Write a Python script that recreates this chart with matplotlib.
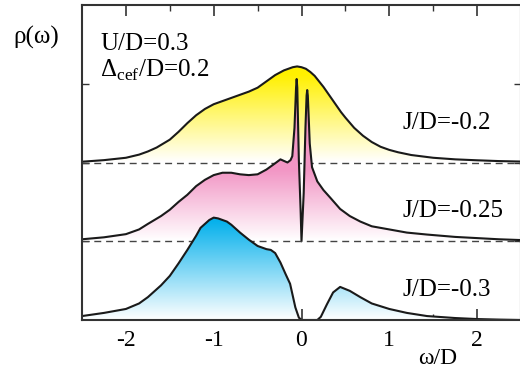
import os
import numpy as np
import matplotlib
matplotlib.use('Agg')
import matplotlib.pyplot as plt
from matplotlib import font_manager
from matplotlib.colors import LinearSegmentedColormap

# look for a Times-like serif file and register it by path
serif_name = None
for key in ['liberationserif-regular', 'tinos-regular', 'timesnewroman', 'nimbusroman-regular',
            'notoserif-regular', 'dejavuserif.']:
    for f in font_manager.fontManager.ttflist:
        if key in os.path.basename(f.fname).lower().replace(' ', ''):
            font_manager.fontManager.addfont(f.fname)
            serif_name = font_manager.FontProperties(fname=f.fname).get_name()
            break
    if serif_name:
        break
if serif_name is None:
    serif_name = 'DejaVu Sans'

plt.rcParams['font.family'] = [serif_name, 'DejaVu Sans']
plt.rcParams['mathtext.fontset'] = 'custom'
plt.rcParams['mathtext.rm'] = serif_name
plt.rcParams['axes.unicode_minus'] = False

# spectral functions (omega/D, rho)
w_a = [-2.5, -2.25, -2.0, -1.85, -1.75, -1.65, -1.5, -1.4, -1.3, -1.2, -1.1, -1.0,
       -0.9, -0.8, -0.7, -0.6, -0.5, -0.4, -0.3, -0.2, -0.1, -0.05, 0.0, 0.05, 0.1,
       0.15, 0.2, 0.25, 0.3, 0.35, 0.4, 0.45, 0.5, 0.6, 0.7, 0.8, 0.9, 1.0, 1.1,
       1.25, 1.5, 1.75, 2.0, 2.25, 2.5]
rho_a = [0.01, 0.03, 0.06, 0.10, 0.14, 0.19, 0.29, 0.39, 0.50, 0.60, 0.68, 0.74,
         0.78, 0.82, 0.86, 0.90, 0.95, 1.03, 1.11, 1.17, 1.21, 1.22, 1.21, 1.19, 1.15,
         1.10, 1.03, 0.96, 0.88, 0.80, 0.72, 0.64, 0.57, 0.44, 0.34, 0.26, 0.20, 0.16, 0.13,
         0.095, 0.06, 0.04, 0.028, 0.018, 0.012]

w_b = [-2.5, -2.25, -2.0, -1.85, -1.75, -1.6, -1.5, -1.4, -1.3, -1.2, -1.1, -1.0, -0.9,
       -0.8, -0.7, -0.6, -0.5, -0.4, -0.3, -0.24, -0.16, -0.125, -0.105, -0.08,
       -0.062, -0.055, -0.048, -0.03, -0.01, 0.0, 0.025, 0.045, 0.058, 0.065, 0.072,
       0.094, 0.12, 0.18, 0.25, 0.33, 0.44, 0.55, 0.67, 0.8, 1.0, 1.2, 1.43, 1.75,
       2.0, 2.25, 2.5]
rho_b = [0.025, 0.05, 0.09, 0.15, 0.22, 0.32, 0.40, 0.50, 0.59, 0.70, 0.78, 0.84, 0.87,
         0.87, 0.85, 0.84, 0.85, 0.91, 0.99, 1.04, 1.00, 1.03, 1.08, 1.44,
         1.95, 2.06, 1.95, 1.03, 0.39, 0.0, 0.61, 1.44, 1.85, 1.92, 1.85,
         1.24, 0.94, 0.76, 0.65, 0.55, 0.41, 0.32, 0.25, 0.19, 0.15, 0.11, 0.085, 0.055,
         0.04, 0.025, 0.015]

w_c = [-2.5, -2.25, -2.0, -1.85, -1.75, -1.6, -1.5, -1.4, -1.3, -1.2, -1.15, -1.05,
       -1.0, -0.95, -0.85, -0.8, -0.7, -0.6, -0.5, -0.4, -0.35, -0.3, -0.24, -0.18,
       -0.13, -0.07, -0.03, 0.0, 0.18, 0.22, 0.29, 0.36, 0.44, 0.55, 0.67, 0.8, 1.0,
       1.2, 1.43, 1.75, 2.0, 2.25, 2.5]
rho_c = [0.05, 0.09, 0.14, 0.21, 0.29, 0.44, 0.56, 0.72, 0.89, 1.07, 1.17, 1.27,
         1.30, 1.29, 1.25, 1.21, 1.11, 1.02, 0.94, 0.90, 0.89, 0.85, 0.73, 0.58,
         0.46, 0.16, 0.03, 0.0, 0.0, 0.04, 0.20, 0.35, 0.42, 0.37, 0.29, 0.21, 0.14,
         0.09, 0.05, 0.025, 0.012, 0.005, 0.0]

curves = [
    (w_a, rho_a, 2, '#FFF000', 1.1, 'J/D=-0.2', 2.425),
    (w_b, rho_b, 1, '#F296C5', 0.9, 'J/D=-0.25', 1.308),
    (w_c, rho_c, 0, '#06B1EC', 1.25, 'J/D=-0.3', 0.305),
]


def gradient_fill(ax, x, y, base, color, top, z):
    x = np.asarray(x)
    y = np.asarray(y)
    poly = ax.fill_between(x, base, base + y, facecolor='none', edgecolor='none', zorder=z)
    cmap = LinearSegmentedColormap.from_list('g', ['white', color])
    hmax = y.max()
    rows = np.clip(np.linspace(0, hmax, 300) / top, 0, 1)
    im = ax.imshow(rows.reshape(-1, 1), extent=[x.min(), x.max(), base, base + hmax],
                   origin='lower', cmap=cmap, vmin=0, vmax=1, aspect='auto',
                   interpolation='bilinear', zorder=z)
    im.set_clip_path(poly.get_paths()[0], transform=ax.transData)
    ax.plot(x, base + y, color='#1a1a1a', lw=1.5, zorder=z + 0.5, solid_joinstyle='round')


fig = plt.figure(figsize=(5.2, 3.68), dpi=100)
ax = fig.add_axes([82 / 520, 48 / 368, 439 / 520, 315 / 368])

for i, (w, rho, base, col, top, label, ty) in enumerate(curves):
    z = 2 + 2 * i
    gradient_fill(ax, w, rho, base, col, top, z)
    if base > 0:
        ax.axhline(base, color='#444444', lw=1.0, ls=(0, (5, 3.5)), zorder=z + 0.8)
    ax.text(1.156, ty, label, fontsize=18, va='baseline', ha='left', zorder=20)

ax.text(-2.295, 3.43, 'U/D=0.3', fontsize=18, va='baseline', ha='left')
ax.text(-2.295, 3.086, r'$\Delta_{\mathrm{cef}}$/D=0.2', fontsize=18, va='baseline', ha='left')

ax.set_xlim(-2.5, 2.5)
ax.set_ylim(0, 4)
ax.set_xticks([-2, -1, 0, 1, 2])
ax.set_xticklabels(['-2', '-1', '0', '1', '2'])
ax.set_xticks([-1.5, -0.5, 0.5, 1.5], minor=True)
ax.set_yticks([1, 2, 3])
ax.set_yticklabels([])
ax.tick_params(axis='x', which='major', direction='in', length=8, width=1.2,
               top=True, labelsize=17, pad=7, color='#333333')
ax.tick_params(axis='x', which='minor', direction='in', length=4, width=1.0,
               top=True, color='#333333')
ax.tick_params(axis='y', which='major', direction='in', length=5, width=1.0,
               right=True, color='#333333')
for s in ax.spines.values():
    s.set_linewidth(1.5)
    s.set_color('#333333')
    s.set_zorder(30)

fig.text(13 / 520, 1 - 44 / 368, 'ρ(ω)', fontsize=18, va='baseline', ha='left')
fig.text(418 / 520, 1 - 364 / 368, 'ω/D', fontsize=17, va='baseline', ha='left')

fig.savefig('out.png', dpi=100)
